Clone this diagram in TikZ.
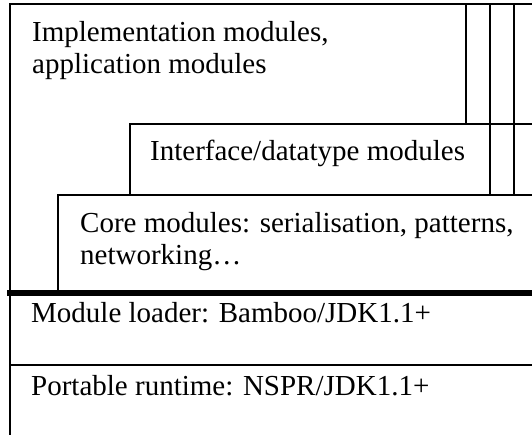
\documentclass[tikz,border=0pt]{standalone}
\usepackage{fontspec}
\setmainfont{Liberation Serif}
\begin{document}
\begin{tikzpicture}[x=1pt,y=-1pt,
  rule/.style={line width=1.6pt, line cap=rect},
  heavyrule/.style={line width=6pt},
  layertext/.style={anchor=base west, inner sep=0pt, align=left,
    font=\fontsize{29}{32}\selectfont}]
\useasboundingbox (0,0) rectangle (532,435);
\begin{scope}
\clip (0,0) rectangle (532,435);
% outer frame of the module stack
\draw[rule] (10,440) -- (10,4) -- (540,4);
% stacked implementation columns
\draw[rule] (466,4) -- (466,124);
\draw[rule] (490,4) -- (490,195);
\draw[rule] (514,4) -- (514,195);
% interface/datatype layer
\draw[rule] (130,195) -- (130,124) -- (540,124);
% core layer
\draw[rule] (58,293) -- (58,195) -- (540,195);
% boundary between modules and the loader
\draw[heavyrule] (7,293) -- (540,293);
% loader / runtime separator
\draw[rule] (10,365) -- (540,365);
\end{scope}
% multi-line labels are anchored on the baseline of their last line
\node[layertext] (impl) at (32,74) {Implementation modules,\\application modules};
\node[layertext] (iface) at (150,161) {Interface/datatype modules};
\node[layertext] (core) at (80,265) {Core modules: serialisation, patterns,\\networking…};
\node[layertext] (loader) at (31,322) {Module loader: Bamboo/JDK1.1+};
\node[layertext] (runtime) at (31,395) {Portable runtime: NSPR/JDK1.1+};
\end{tikzpicture}
\end{document}
